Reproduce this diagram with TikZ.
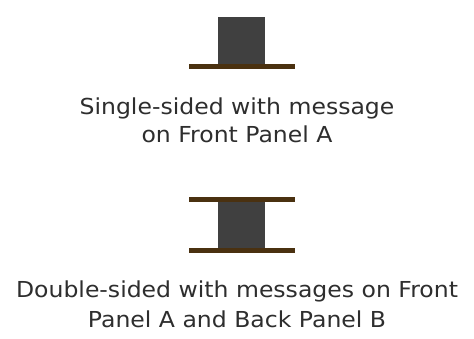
\documentclass[tikz,border=0pt]{standalone}
\usepackage{fontspec}
\setmainfont{DejaVu Sans}[FakeStretch=1.07]
\definecolor{panel}{HTML}{404040}
\definecolor{bar}{HTML}{4A3110}
\tikzset{
  panelbox/.style={fill=panel, draw=none},
  barbox/.style={fill=bar, draw=none},
  caption/.style={anchor=base, inner sep=0pt, font=\fontsize{22}{28}\selectfont, text=black!82}
}
\begin{document}
\begin{tikzpicture}[x=1pt,y=-1pt]
\useasboundingbox[fill=white] (0,0) rectangle (474,339);
% single-sided
\fill[panel] (218,17) rectangle (265,64);
\fill[bar] (189,64) rectangle (295,69);
\node[caption] (s1) at (237,115) {Single-sided with message};
\node[caption] (s2) at (237,143) {on Front Panel A};
% double-sided
\fill[bar] (189,197) rectangle (295,202);
\fill[panel] (218,202) rectangle (265,248);
\fill[bar] (189,248) rectangle (295,253);
\node[caption] (d1) at (237,298) {Double-sided with messages on Front};
\node[caption] (d2) at (237,327) {Panel A and Back Panel B};
\end{tikzpicture}
\end{document}
